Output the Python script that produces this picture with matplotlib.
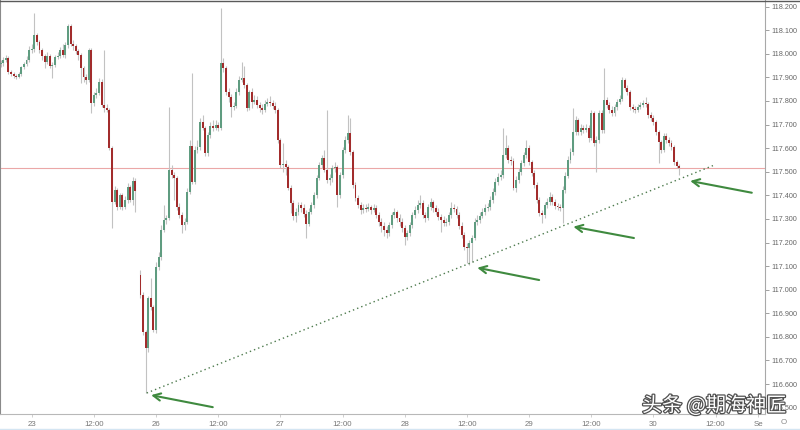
import numpy as np
import matplotlib
matplotlib.use('Agg')
import matplotlib.pyplot as plt
from matplotlib import patheffects as pe
from matplotlib import font_manager as fm
from matplotlib.lines import Line2D

nan = float('nan')

# 30-minute candles, contiguous bar index (weekend skipped)
close = [117.961, 117.974, 117.982, 117.923, 117.914, 117.906, 117.902, 117.914, 117.944, 117.957,
         117.974, 118.016, 118.020, 118.080, 118.050, 118.016, 117.991, 117.965, 117.991, 117.948,
         117.952, 117.986, 117.991, 118.016, 117.995, 118.037, 118.118, 118.041, 118.033, 118.012,
         117.995, 117.940, 117.902, 117.889, 118.016, 117.791, 117.825, 117.834, 117.880, 117.783,
         117.770, 117.762, 117.601, 117.372, 117.422, 117.350, 117.401, 117.350, 117.380, 117.435,
         117.380, 117.461, 117.418, nan, 116.977, 116.820, 116.752, 116.965, 116.926, 116.829,
         117.096, 117.138, 117.253, 117.295, 117.304, 117.507, 117.486, 117.473, 117.350, 117.316,
         117.274, 117.287, 117.414, 117.609, 117.456, 117.592, 117.605, 117.711, 117.685, 117.579,
         117.656, 117.694, 117.685, 117.698, 117.685, 117.961, 117.940, 117.838, 117.817, 117.774,
         117.779, 117.838, 117.889, 117.897, 117.868, 117.770, 117.838, 117.796, 117.804, 117.783,
         117.770, 117.762, 117.787, 117.796, 117.791, 117.779, 117.762, 117.634, 117.528, 117.533,
         117.520, 117.431, 117.367, 117.312, 117.329, 117.359, 117.346, 117.321, 117.278, 117.329,
         117.359, 117.401, 117.473, 117.528, 117.558, 117.507, 117.465, 117.473, 117.516, 117.520,
         117.401, 117.486, 117.592, 117.634, 117.664, 117.584, 117.444, 117.389, 117.359, 117.338,
         117.346, 117.342, 117.350, 117.338, 117.346, 117.316, 117.287, 117.270, 117.253, 117.240,
         117.274, 117.316, 117.329, 117.304, 117.287, 117.261, 117.223, 117.240, 117.274, 117.316,
         117.338, 117.359, 117.367, 117.316, 117.304, 117.350, 117.372, 117.346, 117.329, 117.308,
         117.295, 117.283, 117.287, 117.316, 117.346, 117.342, 117.316, 117.270, 117.232, 117.181,
         117.177, 117.198, 117.219, 117.287, 117.295, 117.312, 117.329, 117.346, 117.350, 117.380,
         117.414, 117.456, 117.478, 117.486, 117.571, 117.601, 117.550, 117.545, 117.431, 117.465,
         117.499, 117.537, 117.571, 117.601, 117.541, 117.495, 117.444, 117.380, 117.325, 117.316,
         117.359, 117.372, 117.393, 117.372, 117.355, 117.350, 117.346, 117.422, 117.482, 117.550,
         117.584, 117.668, 117.719, 117.668, 117.685, 117.677, 117.685, 117.643, 117.749, 117.622,
         117.634, 117.749, 117.677, 117.804, 117.783, 117.762, 117.749, 117.774, 117.796, 117.808,
         117.889, 117.855, 117.838, 117.774, 117.766, 117.762, 117.774, 117.783, 117.791, 117.787,
         117.740, 117.728, 117.711, 117.668, 117.626, 117.592, 117.651, 117.634, 117.622, 117.605,
         117.541, 117.524, 117.516]

high = [117.974, 117.986, 117.995, 117.991, 117.931, 117.923, 117.914, 117.923, 117.948, 117.965,
        117.991, 118.033, 118.041, 118.173, 118.088, 118.058, 118.025, 117.999, 118.008, 117.999,
        117.965, 117.995, 118.008, 118.029, 118.041, 118.050, 118.126, 118.126, 118.058, 118.041,
        118.020, 118.003, 117.948, 117.914, 118.025, 118.025, 117.838, 117.855, 117.897, 117.893,
        118.016, 117.787, 117.770, 117.609, 117.439, 117.431, 117.410, 117.410, 117.397, 117.452,
        117.444, 117.478, 117.473, nan, 117.083, 116.990, 116.829, 116.973, 117.049, 116.935,
        117.117, 117.160, 117.274, 117.359, 117.316, 117.774, 117.528, 117.499, 117.482, 117.367,
        117.329, 117.304, 117.431, 117.634, 117.918, 117.609, 117.634, 117.728, 117.740, 117.694,
        117.668, 117.711, 117.719, 117.719, 117.711, 118.194, 117.982, 117.948, 117.855, 117.830,
        117.796, 117.855, 117.906, 117.965, 117.948, 117.876, 117.846, 117.855, 117.825, 117.821,
        117.796, 117.787, 117.804, 117.812, 117.821, 117.804, 117.796, 117.770, 117.643, 117.622,
        117.550, 117.528, 117.444, 117.380, 117.346, 117.372, 117.372, 117.363, 117.338, 117.346,
        117.372, 117.414, 117.486, 117.541, 117.571, 117.592, 117.762, 117.490, 117.528, 117.541,
        117.528, 117.499, 117.605, 117.651, 117.740, 117.728, 117.592, 117.456, 117.401, 117.372,
        117.363, 117.363, 117.367, 117.359, 117.363, 117.359, 117.329, 117.304, 117.287, 117.270,
        117.287, 117.329, 117.346, 117.338, 117.321, 117.304, 117.274, 117.253, 117.287, 117.329,
        117.355, 117.380, 117.401, 117.380, 117.329, 117.363, 117.389, 117.380, 117.359, 117.346,
        117.321, 117.312, 117.304, 117.329, 117.372, 117.363, 117.355, 117.329, 117.287, 117.244,
        117.198, 117.210, 117.232, 117.304, 117.316, 117.329, 117.346, 117.363, 117.367, 117.397,
        117.431, 117.473, 117.495, 117.507, 117.685, 117.656, 117.613, 117.567, 117.558, 117.482,
        117.516, 117.550, 117.584, 117.634, 117.613, 117.550, 117.507, 117.456, 117.393, 117.338,
        117.372, 117.389, 117.414, 117.405, 117.384, 117.367, 117.363, 117.439, 117.499, 117.567,
        117.601, 117.770, 117.736, 117.728, 117.702, 117.698, 117.702, 117.698, 117.762, 117.757,
        117.651, 117.762, 117.762, 117.940, 117.817, 117.796, 117.779, 117.787, 117.808, 117.825,
        117.902, 117.897, 117.868, 117.846, 117.787, 117.779, 117.787, 117.796, 117.804, 117.817,
        117.796, 117.753, 117.740, 117.719, 117.677, 117.634, 117.664, 117.664, 117.647, 117.634,
        117.613, 117.550, 117.533]

low = [117.944, 117.948, 117.965, 117.914, 117.906, 117.897, 117.893, 117.897, 117.906, 117.935,
       117.948, 117.965, 118.003, 118.008, 118.037, 118.003, 117.974, 117.940, 117.957, 117.940,
       117.897, 117.944, 117.978, 117.982, 117.986, 117.982, 118.025, 118.033, 118.016, 117.999,
       117.974, 117.876, 117.880, 117.872, 117.880, 117.749, 117.779, 117.812, 117.825, 117.774,
       117.753, 117.753, 117.592, 117.261, 117.363, 117.338, 117.342, 117.338, 117.342, 117.367,
       117.372, 117.359, 117.329, nan, 116.965, 116.808, 116.562, 116.736, 116.914, 116.820,
       116.816, 117.083, 117.126, 117.244, 117.278, 117.295, 117.473, 117.380, 117.338, 117.304,
       117.240, 117.253, 117.278, 117.405, 117.448, 117.448, 117.579, 117.592, 117.677, 117.567,
       117.567, 117.643, 117.673, 117.677, 117.673, 117.677, 117.923, 117.825, 117.796, 117.732,
       117.762, 117.770, 117.825, 117.880, 117.855, 117.757, 117.762, 117.770, 117.787, 117.770,
       117.753, 117.745, 117.753, 117.779, 117.779, 117.766, 117.749, 117.622, 117.516, 117.499,
       117.486, 117.422, 117.325, 117.295, 117.287, 117.316, 117.329, 117.308, 117.219, 117.270,
       117.321, 117.346, 117.389, 117.465, 117.516, 117.499, 117.452, 117.444, 117.456, 117.499,
       117.350, 117.389, 117.473, 117.579, 117.622, 117.571, 117.431, 117.376, 117.346, 117.321,
       117.325, 117.329, 117.333, 117.321, 117.329, 117.304, 117.270, 117.244, 117.227, 117.219,
       117.227, 117.261, 117.304, 117.287, 117.270, 117.244, 117.189, 117.210, 117.227, 117.261,
       117.304, 117.325, 117.346, 117.304, 117.287, 117.295, 117.338, 117.329, 117.316, 117.295,
       117.244, 117.270, 117.270, 117.274, 117.304, 117.329, 117.304, 117.257, 117.219, 117.168,
       117.113, 117.104, 117.117, 117.210, 117.274, 117.283, 117.304, 117.316, 117.333, 117.338,
       117.367, 117.401, 117.444, 117.465, 117.473, 117.558, 117.537, 117.528, 117.422, 117.414,
       117.452, 117.486, 117.524, 117.558, 117.528, 117.482, 117.431, 117.367, 117.312, 117.283,
       117.304, 117.346, 117.359, 117.359, 117.342, 117.338, 117.333, 117.283, 117.410, 117.473,
       117.537, 117.571, 117.656, 117.656, 117.656, 117.664, 117.668, 117.626, 117.634, 117.609,
       117.499, 117.622, 117.664, 117.664, 117.770, 117.749, 117.736, 117.736, 117.762, 117.787,
       117.800, 117.846, 117.825, 117.762, 117.753, 117.749, 117.753, 117.766, 117.774, 117.774,
       117.728, 117.715, 117.698, 117.656, 117.537, 117.579, 117.584, 117.622, 117.609, 117.592,
       117.528, 117.516, 117.486]

# each candle opens at the previous close, except the first of each session
open_ = [117.957] + close[0:52] + [nan, 117.062] + close[54:262]

ytick_vals = [116.5, 116.6, 116.7, 116.8, 116.9, 117.0, 117.1, 117.2, 117.3,
              117.4, 117.5, 117.6, 117.7, 117.8, 117.9, 118.0, 118.1, 118.2]
xtick_pos = [12, 36, 60, 84, 108, 132, 156, 180, 204, 228, 252, 276, 292.4]
xtick_labels = ['23', '12:00', '26', '12:00', '27', '12:00', '28', '12:00',
                '29', '12:00', '30', '12:00', 'Se']

hline_price = 117.515
trend_x = [56.4, 275.0]
trend_y = [116.562, 117.526]
arrow_tails = [(81.9, 116.502), (207.9, 117.041), (244.5, 117.219), (290.0, 117.411)]
arrow_heads = [(58.1, 116.553), (184.0, 117.093), (221.1, 117.267), (266.2, 117.461)]
watermark = '头条 @期海神匠'

# pick a narrow sans for the axis labels if one is installed
names = {f.name for f in fm.fontManager.ttflist}
if 'Liberation Sans Narrow' in names:
    xfont = dict(family=['Liberation Sans Narrow', 'DejaVu Sans'], size=6.6)
    yfont = dict(family=['Liberation Sans Narrow', 'DejaVu Sans'], size=6.6)
else:
    xfont = dict(family=['Liberation Sans', 'DejaVu Sans'], size=5.7)
    yfont = dict(family=['Liberation Sans', 'DejaVu Sans'], size=5.2)

fig = plt.figure(figsize=(8, 4.3), dpi=100)
ax = fig.add_axes([0, 0.0372, 0.95625, 0.9628])
ax.set_xlim(-0.24, 295.1)
ax.set_ylim(116.473, 118.228)

o = np.array(open_, dtype=float)
c = np.array(close, dtype=float)
h = np.array(high, dtype=float)
l = np.array(low, dtype=float)
idx = np.arange(len(c))
valid = ~np.isnan(c)

ax.axhline(hline_price, color='#eba7a7', lw=0.8, zorder=1)

ax.vlines(idx[valid], l[valid], h[valid], color='#c2c2c2', lw=0.8, zorder=2)
up = c >= o
colors = np.where(up, '#5f9c80', '#a22c2c')
bottom = np.minimum(o, c)
height = np.maximum(np.abs(c - o), 0.004)
ax.bar(idx[valid], height[valid], bottom=bottom[valid], width=0.75,
       color=colors[valid], linewidth=0, zorder=3)

ax.plot(trend_x, trend_y, color='#4d7a4d', lw=1.0, linestyle=(0, (1, 2.2)), zorder=4)

for tail, head in zip(arrow_tails, arrow_heads):
    ax.annotate('', xy=head, xytext=tail,
                arrowprops=dict(arrowstyle='->', color='#3f8a3f', lw=1.5,
                                mutation_scale=13, shrinkA=0, shrinkB=0),
                zorder=5)

ax.yaxis.tick_right()
ax.set_yticks(ytick_vals)
ax.set_yticklabels(['%.3f' % v for v in ytick_vals], **yfont)
ax.tick_params(axis='y', direction='out', length=3, width=0.7, color='#a0a0a0',
               labelcolor='#666666', pad=1.5)
ax.set_xticks(xtick_pos)
ax.set_xticklabels(xtick_labels, **xfont)
ax.tick_params(axis='x', direction='out', length=2, width=0.6, color='#c8c8c8',
               labelcolor='#777777', pad=3)

ax.spines['right'].set_color('#a8a8a8')
ax.spines['right'].set_linewidth(0.8)
ax.spines['bottom'].set_color('#b8b8b8')
ax.spines['bottom'].set_linewidth(0.8)
ax.spines['left'].set_color('#8a8a8a')
ax.spines['left'].set_linewidth(0.8)
ax.spines['top'].set_visible(False)

fig.add_artist(Line2D([0, 1], [0.9985, 0.9985], color='#5a5a5a', lw=1.0))
fig.add_artist(Line2D([0, 1], [0.002, 0.002], color='#d4e5f2', lw=1.0))

fig.text(0.8025, 0.0558, watermark, fontsize=14.5, color='white',
         family=['Noto Sans CJK SC', 'DejaVu Sans'], va='center', ha='left',
         path_effects=[pe.withStroke(linewidth=1.8, foreground='#505050')], zorder=10)
fig.text(0.979, 0.0186, 'O', color='#888888', va='center', ha='center', **xfont)

fig.savefig('out.png', dpi=100)
